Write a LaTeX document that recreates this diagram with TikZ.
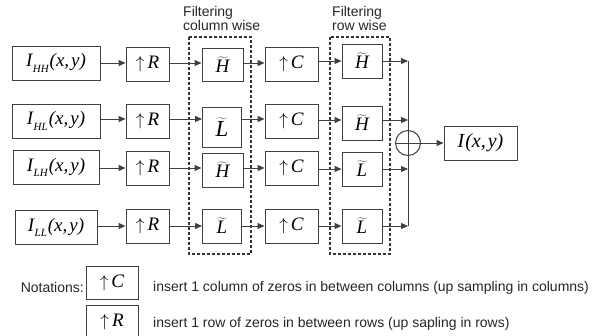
\documentclass[tikz,border=0pt]{standalone}
\usepackage{fontspec}
\setmainfont{Liberation Sans}
\newfontfamily\tm{Liberation Serif}
\usetikzlibrary{arrows.meta}
\newcommand{\mi}[1]{{\tm\itshape #1}}
\newcommand{\Isub}[1]{\mi{I}\kern0.5pt\raisebox{-0.3em}{\fontsize{11}{11}\selectfont\mi{#1}}\kern1pt\mi{(x,\kern2pt y)}}
\newcommand{\tld}[1]{$\widetilde{\mbox{\mi{#1}}}$}
\newcommand{\upR}{$\uparrow$\kern3pt\mi{R}}
\newcommand{\upC}{$\uparrow$\kern3pt\mi{C}}
\begin{document}
\begin{tikzpicture}[x=1pt,y=-1pt,
  blk/.style={draw=black!75, line width=0.9pt, inner sep=0pt, minimum height=34pt,
    font=\fontsize{19}{21}\selectfont},
  arr/.style={-{Triangle[length=7pt,width=6pt]}, draw=black!75, line width=1pt},
  ln/.style={draw=black!75, line width=1pt},
  dashbox/.style={draw=black!80, line width=1.2pt, dash pattern=on 3pt off 2pt},
  lab/.style={font=\fontsize{14}{14}\selectfont, text=black!85, inner sep=0pt}]
\useasboundingbox (0,0) rectangle (612,335);
% dashed groups
\draw[dashbox] (189,37) rectangle (251,254);
\draw[dashbox] (330,37) rectangle (390,254);
\node[lab, anchor=north west, align=left] (lcol) at (183,6) {Filtering\\column wise};
\node[lab, anchor=north west, align=left] (lrow) at (332,6) {Filtering\\row wise};
% row 1
\node[blk, minimum width=88pt] (i1) at (56,63) {\Isub{HH}};
\node[blk, minimum width=43pt] (r1) at (147.5,64) {\upR};
\node[blk, minimum width=41pt, minimum height=33pt] (a1) at (222.5,64.5) {\tld{H}};
\node[blk, minimum width=53pt] (c1) at (291.5,64) {\upC};
\node[blk, minimum width=40pt] (b1) at (362,61) {\tld{H}};
% row 2
\node[blk, minimum width=88pt] (i2) at (56,121) {\Isub{HL}};
\node[blk, minimum width=43pt] (r2) at (147.5,121) {\upR};
\node[blk, minimum width=39pt, minimum height=40pt, font=\fontsize{23}{25}\selectfont] (a2) at (222,127) {\tld{L}};
\node[blk, minimum width=53pt] (c2) at (291.5,121) {\upC};
\node[blk, minimum width=40pt] (b2) at (362,123) {\tld{H}};
% row 3
\node[blk, minimum width=86pt] (i3) at (56,167.5) {\Isub{LH}};
\node[blk, minimum width=43pt] (r3) at (147.5,168) {\upR};
\node[blk, minimum width=41pt] (a3) at (222.5,170) {\tld{H}};
\node[blk, minimum width=53pt] (c3) at (291.5,168) {\upC};
\node[blk, minimum width=40pt] (b3) at (362,169) {\tld{L}};
% row 4
\node[blk, minimum width=82pt] (i4) at (56,227.5) {\Isub{LL}};
\node[blk, minimum width=43pt] (r4) at (147.5,226) {\upR};
\node[blk, minimum width=39pt] (a4) at (222,226) {\tld{L}};
\node[blk, minimum width=53pt] (c4) at (291.5,226) {\upC};
\node[blk, minimum width=40pt] (b4) at (362,226) {\tld{L}};
% sum and output
\node[circle, draw=black!75, line width=1pt, minimum size=25pt, inner sep=0pt] (s) at (408,143) {};
\node[blk, minimum width=73pt, font=\fontsize{20}{22}\selectfont] (o) at (480.5,143) {\mi{I}\kern1pt\mi{(x,\kern2pt y)}};
\coordinate (j1) at (408,61);
\coordinate (j2) at (408,120);
\coordinate (j3) at (408,169);
\coordinate (j4) at (408,226);
% connectors
\foreach \n/\y in {1/63,2/119,3/168,4/226}{
  \draw[arr] (i\n.east |- 0,\y) -- (r\n.west |- 0,\y);
  \draw[arr] (r\n.east |- 0,\y) -- (a\n.west |- 0,\y);
  \draw[arr] (a\n.east |- 0,\y) -- (c\n.west |- 0,\y);
}
\draw[arr] (c1.east |- b1) -- (b1.west);
\draw[arr] (c2.east |- 0,120) -- (b2.west |- 0,120);
\draw[arr] (c3.east |- b3) -- (b3.west);
\draw[arr] (c4.east) -- (b4.west);
\draw[arr] (b1.east) -- (j1);
\draw[arr] (b2.east |- j2) -- (j2);
\draw[arr] (b3.east) -- (j3);
\draw[arr] (b4.east) -- (j4);
\draw[ln] (j1) -- (j4);
\draw[ln] (s.west) -- (s.east);
\draw[arr] (s.east) -- (o.west);
% notations
\node[lab, anchor=east] (nt) at (84,287) {Notations:};
\node[blk, minimum width=52pt, minimum height=33pt] (nc) at (112,282.5) {\upC};
\node[blk, minimum width=52pt, minimum height=33pt] (nr) at (112,321.5) {\upR};
\node[lab, anchor=west] (tc) at (153,288) {insert 1 column of zeros in between columns (up sampling in columns)};
\node[lab, anchor=west] (tr) at (153,324) {insert 1 row of zeros in between rows (up sapling in rows)};
\end{tikzpicture}
\end{document}
